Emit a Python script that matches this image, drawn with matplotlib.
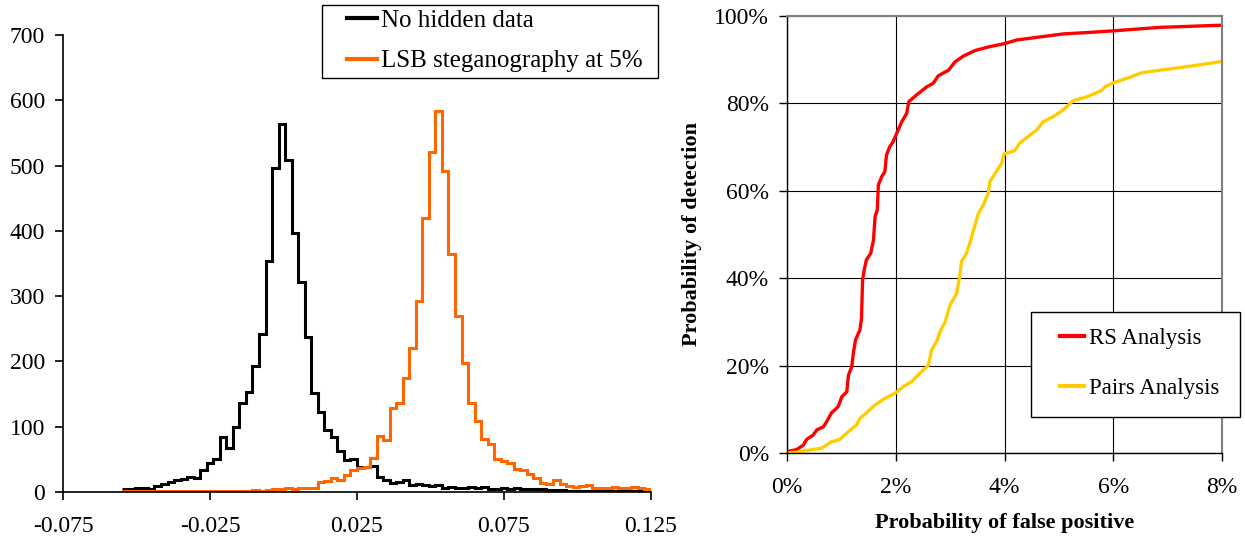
import numpy as np
import matplotlib
matplotlib.use("Agg")
import matplotlib.pyplot as plt
from matplotlib.ticker import FuncFormatter
from matplotlib.patches import Rectangle

plt.rcParams['font.family'] = ['Liberation Serif', 'DejaVu Serif']

# histogram of RS estimates: 81 bins from -0.055 to 0.125
bin_start = -0.055
bin_stop = 0.125
clean_counts = [5, 5, 6, 6, 5,
                9, 13, 15, 18, 20, 23,
                22, 34, 44, 50, 84, 67,
                100, 136, 153, 193, 242, 354, 496,
                564, 508, 396, 321, 237, 152,
                123, 95, 84, 63, 49, 50,
                38, 38, 40, 23, 19,
                14, 15, 19, 11, 12, 11, 9, 11,
                6, 8, 6, 6, 7, 6, 7, 5,
                5, 6, 5, 6, 5, 4, 4, 4,
                3, 3, 3, 2, 2, 2, 2, 2,
                2, 2, 2, 2, 2, 2, 2, 2]
stego_counts = [1, 2, 2, 1, 2, 2, 2, 1, 2, 2, 2, 2, 2, 1, 2, 2, 2, 2, 2, 2, 3, 2, 3,
                5, 5, 6, 5, 6, 6, 6,
                16, 17, 22, 19, 26, 33, 36, 39,
                52, 86, 80, 128, 137, 174, 220,
                293, 420, 521, 584, 492, 365, 270,
                197, 136, 108, 81, 74, 50, 48,
                45, 35, 33, 28, 21, 14, 12,
                19, 13, 9, 8, 9, 11, 6,
                6, 6, 8, 6, 6, 7, 6, 4]
hist_labels = ['No hidden data', 'LSB steganography at 5%']
hist_xticks = [-0.075, -0.025, 0.025, 0.075, 0.125]

# ROC curves (false positive %, detection %)
rs_fp = [0.0, 0.18, 0.30, 0.36, 0.48, 0.55, 0.67, 0.73, 0.82, 0.94, 1.01, 1.10, 1.13,
         1.19, 1.22, 1.26, 1.34, 1.37, 1.39, 1.42, 1.46, 1.54, 1.59, 1.62, 1.66, 1.68,
         1.74, 1.80, 1.83, 1.89, 1.95, 2.02, 2.11, 2.20, 2.24, 2.38, 2.57, 2.69, 2.78,
         2.97, 3.09, 3.24, 3.46, 3.73, 4.01, 4.22, 4.71, 5.08, 5.63, 6.0, 6.86, 8.0]
rs_det = [0.3, 0.8, 1.8, 3.1, 4.1, 5.3, 6.0, 7.2, 9.2, 10.6, 12.9, 14.0, 17.8,
          19.7, 22.8, 25.9, 28.1, 30.8, 39.6, 41.9, 44.2, 45.7, 48.7, 54.1, 55.6, 61.3,
          63.2, 64.4, 68.2, 70.1, 71.2, 73.2, 75.8, 77.7, 80.4, 81.9, 83.8, 84.6, 86.3,
          87.6, 89.5, 90.8, 92.1, 93.0, 93.7, 94.5, 95.3, 95.9, 96.3, 96.6, 97.4, 97.9]
pairs_fp = [0.0, 0.2, 0.42, 0.64, 0.82, 0.97, 1.13, 1.28, 1.34, 1.46, 1.62, 1.80, 1.99,
            2.14, 2.29, 2.44, 2.60, 2.66, 2.75, 2.84, 2.90, 3.00, 3.12, 3.17, 3.21, 3.30,
            3.38, 3.42, 3.52, 3.61, 3.70, 3.73, 3.85, 3.95, 3.99, 4.19, 4.28, 4.41, 4.59,
            4.71, 4.90, 5.08, 5.26, 5.51, 5.78, 5.85, 6.0, 6.24, 6.52, 6.86, 7.41, 8.0]
pairs_det = [0.0, 0.2, 0.7, 1.1, 2.6, 3.1, 4.9, 6.4, 7.9, 9.2, 11.0, 12.5, 13.7,
             15.2, 16.3, 18.2, 20.1, 23.6, 25.5, 28.5, 29.7, 33.9, 36.5, 40.0, 43.8, 45.7,
             48.7, 50.6, 54.8, 56.8, 59.4, 62.1, 64.4, 66.3, 68.4, 69.2, 70.9, 72.2, 73.9,
             75.8, 77.0, 78.5, 80.6, 81.5, 82.9, 83.8, 84.7, 85.7, 87.0, 87.6, 88.5, 89.6]
roc_labels = ['RS Analysis', 'Pairs Analysis']

W, H = 1245, 536
fig = plt.figure(figsize=(W / 100, H / 100), dpi=100)


def px_box(x0, y0, x1, y1):
    # white box with black edge, given in pixels from the top-left corner
    r = Rectangle((x0 / W, 1 - y1 / H), (x1 - x0) / W, (y1 - y0) / H,
                  transform=fig.transFigure, facecolor='white', edgecolor='black',
                  lw=1.0, zorder=4)
    fig.add_artist(r)


# ---- left: histogram ----
ax1 = fig.add_axes([63 / W, 1 - 492 / H, 588 / W, 457 / H])
edges = np.linspace(bin_start, bin_stop, len(clean_counts) + 1)
ax1.stairs(clean_counts, edges, color='black', lw=2.2, baseline=None)
ax1.stairs(stego_counts, edges, color='#FF6600', lw=2.2, baseline=None)
ax1.set_xlim(-0.075, 0.125)
ax1.set_ylim(0, 700)
ax1.set_xticks(hist_xticks)
ax1.set_xticklabels(['%.3f' % t for t in hist_xticks])
ax1.set_yticks(range(0, 701, 100))
for s in ['top', 'right']:
    ax1.spines[s].set_visible(False)
for s in ['left', 'bottom']:
    ax1.spines[s].set_linewidth(1.2)
ax1.tick_params(axis='both', direction='out', length=6, width=1.2, labelsize=17)
ax1.tick_params(axis='x', pad=11)
ax1.tick_params(axis='y', pad=7)

px_box(322, 5, 658, 78)
lh1 = [plt.Line2D([], [], color='black', lw=3), plt.Line2D([], [], color='#FF6600', lw=3)]
fig.legend(lh1, hist_labels, loc='center left', bbox_to_anchor=(347 / W, 1 - 41 / H),
           frameon=False, fontsize=18, handlelength=1.2, handletextpad=0.17,
           labelspacing=0.72, borderpad=0, borderaxespad=0)

# ---- right: ROC ----
ax2 = fig.add_axes([787 / W, 1 - 453 / H, 435 / W, 437 / H])
ax2.plot(rs_fp, rs_det, color='#FF0000', lw=2.4)
ax2.plot(pairs_fp, pairs_det, color='#FFCC00', lw=2.4)
ax2.set_xlim(0, 8)
ax2.set_ylim(0, 100)
ax2.set_xticks(range(0, 9, 2))
ax2.set_yticks(range(0, 101, 20))
ax2.xaxis.set_major_formatter(FuncFormatter(lambda v, p: '%d%%' % v))
ax2.yaxis.set_major_formatter(FuncFormatter(lambda v, p: '%d%%' % v))
ax2.grid(True, color='black', lw=0.8)
ax2.set_axisbelow(True)
for s in ['top', 'right']:
    ax2.spines[s].set_color('#808080')
    ax2.spines[s].set_linewidth(1.5)
for s in ['left', 'bottom']:
    ax2.spines[s].set_linewidth(1.0)
ax2.tick_params(axis='both', direction='out', length=6, width=1.0, labelsize=17)
ax2.tick_params(axis='x', pad=11)
ax2.tick_params(axis='y', pad=7)
ax2.set_xlabel('Probability of false positive', fontsize=16, fontweight='bold', labelpad=11)
ax2.set_ylabel('Probability of detection', fontsize=16, fontweight='bold', labelpad=9)

px_box(1031, 312, 1240, 417)
lh2 = [plt.Line2D([], [], color='#FF0000', lw=3), plt.Line2D([], [], color='#FFCC00', lw=3)]
fig.legend(lh2, roc_labels, loc='center left', bbox_to_anchor=(1060 / W, 1 - 363.5 / H),
           frameon=False, fontsize=16.5, handlelength=1.05, handletextpad=0.22,
           labelspacing=1.3, borderpad=0, borderaxespad=0)

fig.savefig('out.png', dpi=100)
